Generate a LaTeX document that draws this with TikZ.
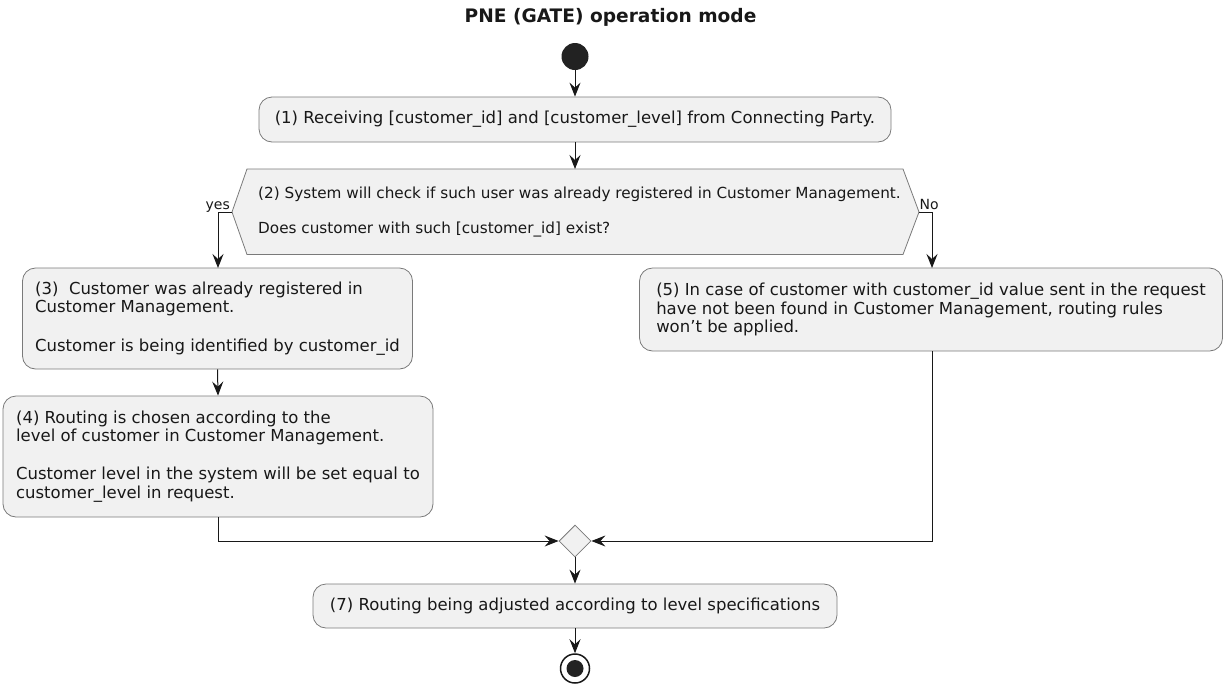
\documentclass[tikz,border=0pt]{standalone}
\usepackage{fontspec}
\setmainfont{DejaVu Sans}
\usetikzlibrary{arrows.meta,shapes.geometric}
\definecolor{boxfill}{HTML}{F1F1F1}
\definecolor{boxline}{HTML}{7A7A7A}
\definecolor{ink}{HTML}{181818}
\definecolor{dot}{HTML}{222222}
\tikzset{
  act/.style={draw=boxline, line width=0.8pt, fill=boxfill, rounded corners=13pt, align=left, inner sep=0pt, font=\fontsize{16.5}{18.3}\selectfont, text=ink},
  flow/.style={draw=ink, line width=1pt, -{Stealth[length=14pt,width=11pt,inset=5pt]}},
  lbl/.style={font=\fontsize{14}{16}\selectfont, text=ink, inner sep=0pt}
}
\begin{document}
\begin{tikzpicture}[x=1pt,y=-1pt]
\useasboundingbox (0,0) rectangle (1225,683);
\node[font=\bfseries\fontsize{18.6}{22}\selectfont, text=ink] (title) at (610.5,17.5) {PNE (GATE) operation mode};
\node[circle, fill=dot, minimum size=27pt, inner sep=0pt] (start) at (575,56.5) {};
\node[act, minimum width=632pt, minimum height=45pt] (a1) at (575,119.5) {(1) Receiving [customer\_id] and [customer\_level] from Connecting Party.};
\coordinate (decl) at (232,212);
\coordinate (decr) at (919,212);
\coordinate (dnw) at (247,169);
\coordinate (dne) at (903,169);
\coordinate (dsw) at (247,254.5);
\coordinate (dse) at (903,254.5);
\draw[boxline, line width=0.8pt, fill=boxfill] (dnw) -- (dne) -- (decr) -- (dse) -- (dsw) -- (decl) -- cycle;
\node[align=left, inner sep=0pt, anchor=west, font=\fontsize{15.25}{17.5}\selectfont, text=ink] (dec) at (258,211.5) {(2) System will check if such user was already registered in Customer Management.\\[17.5pt]Does customer with such [customer\_id] exist?};
\node[act, minimum width=390pt, minimum height=101pt] (a3) at (217.5,318.5) {(3)\ \ Customer was already registered in\\Customer Management.\\[20pt]Customer is being identified by customer\_id};
\node[act, minimum width=430pt, minimum height=121pt] (a4) at (218,456.5) {(4) Routing is chosen according to the\\level of customer in Customer Management.\\[20pt]Customer level in the system will be set equal to\\customer\_level in request.};
\node[act, minimum width=583pt, minimum height=83pt] (a5) at (931,309.5) {(5) In case of customer with customer\_id value sent in the request\\have not been found in Customer Management, routing rules\\won't be applied.};
\node[diamond, draw=boxline, line width=0.8pt, fill=boxfill, minimum width=32pt, minimum height=32pt, inner sep=0pt, shape aspect=1] (merge) at (575,541) {};
\node[act, minimum width=524pt, minimum height=44pt] (a7) at (575,606) {(7) Routing being adjusted according to level specifications};
\node[circle, draw=ink, line width=1.5pt, fill=white, minimum size=29pt, inner sep=0pt] (stop) at (575,668.5) {};
\node[circle, fill=dot, minimum size=17pt, inner sep=0pt] (stopin) at (stop) {};
\node[lbl, anchor=base east] (yes) at (230,209) {yes};
\node[lbl, anchor=base west] (no) at (919.5,209) {No};
\draw[flow] (start) -- (a1);
\draw[flow] (a1.south) -- (a1.south |- dnw);
\draw[flow] (decl) -- (218,212) -- (218,268);
\draw[flow] (decr) -- (932,212) -- (932,268);
\draw[flow] (a3.south) -- (a4.north);
\draw[flow] (a4.south) |- (merge.west);
\draw[flow] (932,351) |- (merge.east);
\draw[flow] (merge.south) -- (a7.north);
\draw[flow] (a7.south) -- (stop.north);
\end{tikzpicture}
\end{document}
